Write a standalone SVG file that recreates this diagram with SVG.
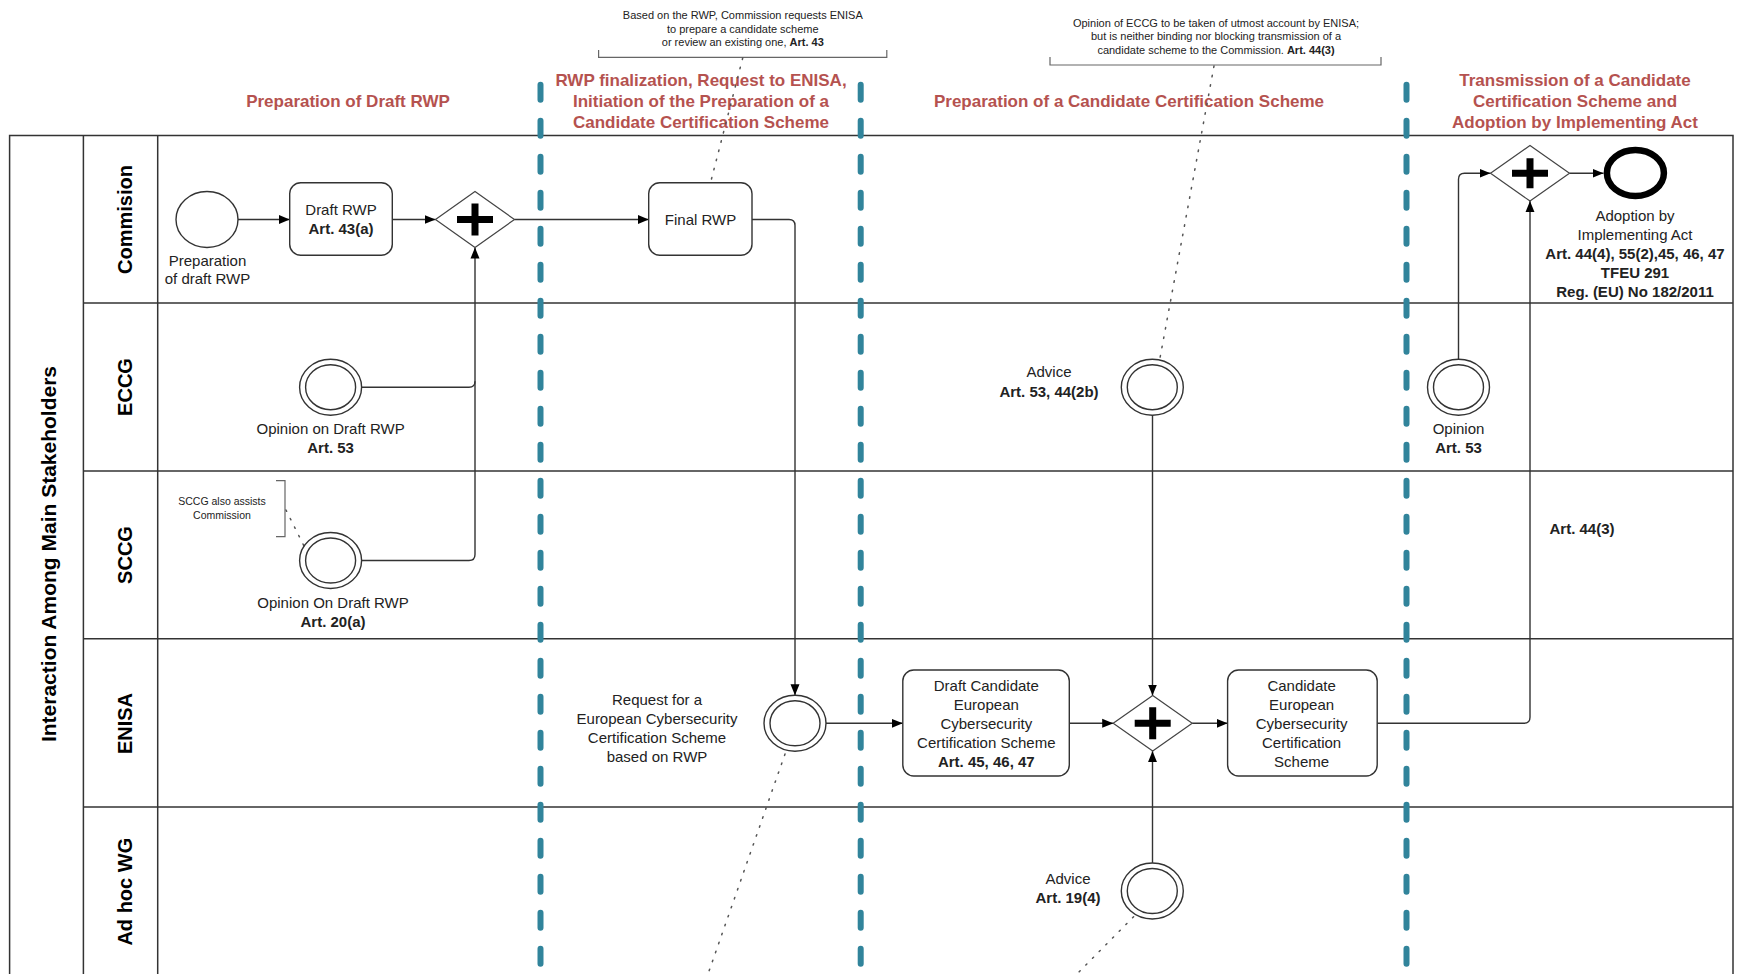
<svg xmlns="http://www.w3.org/2000/svg" width="1741" height="974" viewBox="0 0 1741 974">
<style>
.pool{fill:none;stroke:#333;stroke-width:1.5}
.lane{stroke:#333;stroke-width:1.5;fill:none}
.phase{stroke:#31849B;stroke-width:6;stroke-linecap:round;stroke-dasharray:15 21;fill:none}
.hdr{font-family:"Liberation Sans",Arial,sans-serif;font-weight:bold;font-size:17px;fill:#B5524F;text-anchor:middle}
.lbl{font-family:"Liberation Sans",Arial,sans-serif;font-size:15px;fill:#222;text-anchor:middle}
.b{font-weight:bold}
.lanet{font-family:"Liberation Sans",Arial,sans-serif;font-weight:bold;font-size:20px;fill:#000;text-anchor:middle}
.poolt{font-family:"Liberation Sans",Arial,sans-serif;font-weight:bold;font-size:21px;fill:#000;text-anchor:middle}
.note{font-family:"Liberation Sans",Arial,sans-serif;font-size:11px;fill:#222;text-anchor:middle}
.note2{font-family:"Liberation Sans",Arial,sans-serif;font-size:10.5px;fill:#222;text-anchor:middle}
.task{fill:#fff;stroke:#333;stroke-width:1.4}
.ev{fill:#fff;stroke:#333;stroke-width:1.4}
.end{fill:#fff;stroke:#000;stroke-width:6.5}
.gw{fill:#fff;stroke:#444;stroke-width:1.2}
.plus{stroke:#000;stroke-width:7;fill:none}
.flow{fill:none;stroke:#333;stroke-width:1.4;marker-end:url(#arr)}
.line{fill:none;stroke:#333;stroke-width:1.4}
.dot{fill:none;stroke:#555;stroke-width:1.5;stroke-dasharray:1.5 8;stroke-linecap:round}
.brk{fill:none;stroke:#666;stroke-width:1.2}
</style>
<defs>
<marker id="arr" markerUnits="userSpaceOnUse" markerWidth="11" markerHeight="10" refX="11" refY="5" orient="auto"><path d="M0,0.5 L11,5 L0,9.5 z" fill="#000"/></marker>
</defs>
<rect width="1741" height="974" fill="#fff"/>

<g id="pool">
<path class="pool" d="M9.6,980 V135.5 H1733 V980"/>
<line class="lane" x1="83.4" y1="135.5" x2="83.4" y2="980"/>
<line class="lane" x1="157.7" y1="135.5" x2="157.7" y2="980"/>
<line class="lane" x1="83.4" y1="303" x2="1733" y2="303"/>
<line class="lane" x1="83.4" y1="471" x2="1733" y2="471"/>
<line class="lane" x1="83.4" y1="638.7" x2="1733" y2="638.7"/>
<line class="lane" x1="83.4" y1="807" x2="1733" y2="807"/>
<text class="poolt" transform="translate(56,554) rotate(-90)">Interaction Among Main Stakeholders</text>
<text class="lanet" transform="translate(132,219.5) rotate(-90)">Commision</text>
<text class="lanet" transform="translate(131.5,387) rotate(-90)">ECCG</text>
<text class="lanet" transform="translate(131.5,555) rotate(-90)">SCCG</text>
<text class="lanet" transform="translate(131.5,723.5) rotate(-90)">ENISA</text>
<text class="lanet" transform="translate(132,891.7) rotate(-90)">Ad hoc WG</text>
</g>

<g id="phases">
<line class="phase" x1="540.5" y1="84.7" x2="540.5" y2="974"/>
<line class="phase" x1="860.7" y1="84.7" x2="860.7" y2="974"/>
<line class="phase" x1="1406.5" y1="84.7" x2="1406.5" y2="974"/>
<text class="hdr" x="348" y="106.5">Preparation of Draft RWP</text>
<text class="hdr" x="701" y="86">RWP finalization, Request to ENISA,</text>
<text class="hdr" x="701" y="106.7">Initiation of the Preparation of a</text>
<text class="hdr" x="701" y="128.3">Candidate Certification Scheme</text>
<text class="hdr" x="1129" y="106.7">Preparation of a Candidate Certification Scheme</text>
<text class="hdr" x="1575" y="86">Transmission of a Candidate</text>
<text class="hdr" x="1575" y="106.7">Certification Scheme and</text>
<text class="hdr" x="1575" y="128.3">Adoption by Implementing Act</text>
</g>

<g id="annotation-request">
<text class="note" x="742.8" y="19">Based on the RWP, Commission requests ENISA</text>
<text class="note" x="742.8" y="32.5">to prepare a candidate scheme</text>
<text class="note" x="742.8" y="46">or review an existing one, <tspan class="b">Art. 43</tspan></text>
<path class="brk" d="M598.6,50 V57.3 H886.8 V50"/>
</g>
<g id="annotation-eccg">
<text class="note" x="1216" y="26.7">Opinion of ECCG to be taken of utmost account by ENISA;</text>
<text class="note" x="1216" y="40">but is neither binding nor blocking transmission of a</text>
<text class="note" x="1216" y="53.5">candidate scheme to the Commission. <tspan class="b">Art. 44(3)</tspan></text>
<path class="brk" d="M1050,57 V65 H1381 V57"/>
</g>
<g id="annotation-sccg">
<text class="note2" x="222" y="505">SCCG also assists</text>
<text class="note2" x="222" y="519">Commission</text>
<path class="brk" d="M276,480.7 H285 V536.7 H276"/>
</g>

<g id="connectors">
<path class="dot" d="M742.7,58 L710.7,182"/>
<path class="dot" d="M1214,66 L1160,358"/>
<path class="dot" d="M286,510 L304,546"/>
<path class="dot" d="M785,754 L708,974"/>
<path class="dot" d="M1133.6,916.7 L1077,974"/>
<path class="flow" d="M238,219.5 H289.7"/>
<path class="flow" d="M392.3,219.5 H435.5"/>
<path class="flow" d="M514.5,219.5 H648.7"/>
<path class="flow" d="M752,219.5 H789 Q795,219.5 795,225.5 V695.3"/>
<path class="line" d="M361.6,387.3 H469 Q475,387.3 475,381.3"/>
<path class="flow" d="M361.6,560.5 H469 Q475,560.5 475,554.5 V247.5"/>
<path class="flow" d="M826,723.3 H902.8"/>
<path class="flow" d="M1069.3,723.3 H1113.2"/>
<path class="flow" d="M1152.5,415 V695.5"/>
<path class="flow" d="M1152.5,862.9 V751.1"/>
<path class="flow" d="M1192.2,723.3 H1227.6"/>
<path class="flow" d="M1377.2,723.3 H1524 Q1530,723.3 1530,717.3 V201.1"/>
<path class="flow" d="M1458.5,359.4 V179.3 Q1458.5,173.3 1464.5,173.3 H1490.5"/>
<path class="flow" d="M1569.5,173.3 H1603.5"/>
</g>

<g id="start-prep">
<ellipse class="ev" cx="207" cy="219.5" rx="31" ry="28"/>
<text class="lbl" x="207.5" y="265.7">Preparation</text>
<text class="lbl" x="207.5" y="284.3">of draft RWP</text>
</g>
<g id="task-draft-rwp">
<rect class="task" x="289.7" y="182.7" width="102.6" height="72.6" rx="11"/>
<text class="lbl" x="341" y="215">Draft RWP</text>
<text class="lbl b" x="341" y="233.7">Art. 43(a)</text>
</g>
<g id="gw-1">
<polygon class="gw" points="435.5,219.5 475,191.5 514.5,219.5 475,247.5"/>
<path class="plus" d="M457,219.5 H493 M475,203.5 V235.5"/>
</g>
<g id="task-final-rwp">
<rect class="task" x="648.7" y="182.7" width="103.3" height="72.6" rx="11"/>
<text class="lbl" x="700.5" y="224.5">Final RWP</text>
</g>
<g id="gw-2">
<polygon class="gw" points="1490.5,173.3 1530,145.5 1569.5,173.3 1530,201.1"/>
<path class="plus" d="M1512,173.3 H1548 M1530,158.3 V188.3"/>
</g>
<g id="end-adoption">
<ellipse class="end" cx="1635.4" cy="173" rx="28.5" ry="23"/>
<text class="lbl" x="1635" y="221">Adoption by</text>
<text class="lbl" x="1635" y="240">Implementing Act</text>
<text class="lbl b" x="1635" y="258.5">Art. 44(4), 55(2),45, 46, 47</text>
<text class="lbl b" x="1635" y="277.7">TFEU 291</text>
<text class="lbl b" x="1635" y="296.7">Reg. (EU) No 182/2011</text>
</g>

<g id="ev-eccg-opinion">
<ellipse class="ev" cx="330.6" cy="387.2" rx="31" ry="28"/>
<ellipse class="ev" cx="330.6" cy="387.2" rx="25" ry="22.5"/>
<text class="lbl" x="330.6" y="434.3">Opinion on Draft RWP</text>
<text class="lbl b" x="330.6" y="453.3">Art. 53</text>
</g>
<g id="ev-eccg-advice">
<ellipse class="ev" cx="1152.3" cy="387.2" rx="31" ry="28"/>
<ellipse class="ev" cx="1152.3" cy="387.2" rx="25" ry="22.5"/>
<text class="lbl" x="1049" y="377.3">Advice</text>
<text class="lbl b" x="1049" y="396.7">Art. 53, 44(2b)</text>
</g>
<g id="ev-eccg-opinion-2">
<ellipse class="ev" cx="1458.5" cy="387.2" rx="31" ry="28"/>
<ellipse class="ev" cx="1458.5" cy="387.2" rx="25" ry="22.5"/>
<text class="lbl" x="1458.5" y="434.3">Opinion</text>
<text class="lbl b" x="1458.5" y="453.3">Art. 53</text>
</g>

<g id="ev-sccg-opinion">
<ellipse class="ev" cx="330.6" cy="560.5" rx="31" ry="28"/>
<ellipse class="ev" cx="330.6" cy="560.5" rx="25" ry="22.5"/>
<text class="lbl" x="333" y="607.7">Opinion On Draft RWP</text>
<text class="lbl b" x="333" y="626.7">Art. 20(a)</text>
</g>
<g id="label-art443">
<text class="lbl b" x="1582" y="534">Art. 44(3)</text>
</g>

<g id="ev-enisa-request">
<ellipse class="ev" cx="795" cy="723.3" rx="31" ry="28"/>
<ellipse class="ev" cx="795" cy="723.3" rx="25" ry="22.5"/>
<text class="lbl" x="657" y="705">Request for a</text>
<text class="lbl" x="657" y="724">European Cybersecurity</text>
<text class="lbl" x="657" y="742.7">Certification Scheme</text>
<text class="lbl" x="657" y="761.7">based on RWP</text>
</g>
<g id="task-draft-candidate">
<rect class="task" x="902.8" y="670" width="166.5" height="106" rx="11"/>
<text class="lbl" x="986.3" y="690.7">Draft Candidate</text>
<text class="lbl" x="986.3" y="709.7">European</text>
<text class="lbl" x="986.3" y="728.7">Cybersecurity</text>
<text class="lbl" x="986.3" y="747.7">Certification Scheme</text>
<text class="lbl b" x="986.3" y="766.7">Art. 45, 46, 47</text>
</g>
<g id="gw-3">
<polygon class="gw" points="1113.2,723.3 1152.7,695.5 1192.2,723.3 1152.7,751.1"/>
<path class="plus" d="M1134.7,723.3 H1170.7 M1152.7,707.3 V739.3"/>
</g>
<g id="task-candidate">
<rect class="task" x="1227.6" y="670" width="149.6" height="106" rx="11"/>
<text class="lbl" x="1301.6" y="690.7">Candidate</text>
<text class="lbl" x="1301.6" y="709.7">European</text>
<text class="lbl" x="1301.6" y="728.7">Cybersecurity</text>
<text class="lbl" x="1301.6" y="747.7">Certification</text>
<text class="lbl" x="1301.6" y="766.7">Scheme</text>
</g>

<g id="ev-adhoc-advice">
<ellipse class="ev" cx="1152.3" cy="891" rx="31" ry="28"/>
<ellipse class="ev" cx="1152.3" cy="891" rx="25" ry="22.5"/>
<text class="lbl" x="1068" y="884.3">Advice</text>
<text class="lbl b" x="1068" y="903.3">Art. 19(4)</text>
</g>
</svg>
